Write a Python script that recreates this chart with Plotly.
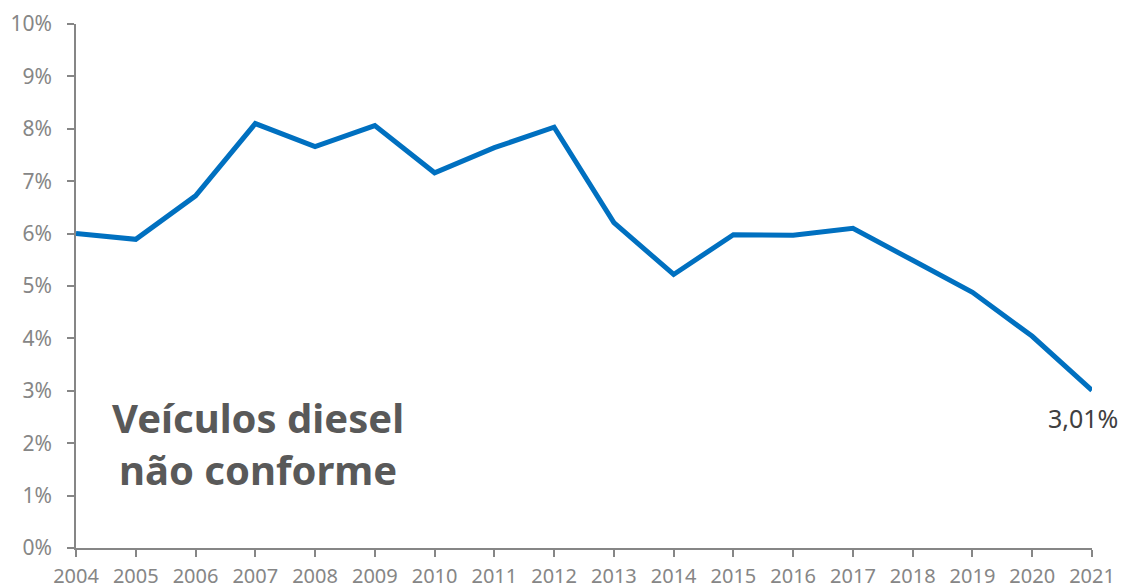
import plotly.graph_objects as go

years = list(range(2004, 2022))
values = [6.00, 5.89, 6.72, 8.10, 7.66, 8.06, 7.16, 7.64, 8.03, 6.21, 5.22, 5.98, 5.97, 6.10, 5.49, 4.88, 4.04, 3.01]
y_ticks = list(range(0, 11))
y_tick_labels = [f"{v}%" for v in y_ticks]
last_label = "3,01%"
title_text = "Veículos diesel<br>não conforme"

axis_gray = "#868686"
font_family = "Noto Sans, Open Sans, sans-serif"

fig = go.Figure()
fig.add_trace(go.Scatter(
    x=years, y=values, mode="lines",
    line=dict(color="#0070C0", width=5),
    hoverinfo="skip", showlegend=False,
))

fig.add_annotation(
    x=years[-1], y=values[-1], text=last_label, showarrow=False,
    xanchor="right", yanchor="top", xshift=28, yshift=-9,
    font=dict(family=font_family, size=25, color="#404040"),
)
fig.add_annotation(
    x=2007.05, y=2.0, text=title_text, showarrow=False,
    xanchor="center", yanchor="middle", align="center",
    font=dict(family=font_family, size=40, color="#595959", weight="bold"),
)

# the page body adds an 8px offset, so the figure is sized to fit the window
fig.update_layout(
    width=1118, height=580,
    margin=dict(l=68, r=34, t=16, b=40),
    paper_bgcolor="white", plot_bgcolor="white",
    font=dict(family=font_family, color=axis_gray),
)
fig.update_xaxes(
    range=[years[0], years[-1]], tickvals=years, ticktext=[str(y) for y in years],
    showgrid=False, zeroline=False, showline=True, linecolor=axis_gray, linewidth=1.5,
    ticks="outside", ticklen=7, tickcolor=axis_gray, tickwidth=1.5,
    tickfont=dict(size=20, color=axis_gray, family=font_family), automargin=False,
    ticklabelstandoff=2,
)
fig.update_yaxes(
    range=[0, 10], tickvals=y_ticks, ticktext=y_tick_labels,
    showgrid=False, zeroline=False, showline=True, linecolor=axis_gray, linewidth=1.5,
    ticks="outside", ticklen=7, tickcolor=axis_gray, tickwidth=1.5,
    tickfont=dict(size=21, color=axis_gray, family=font_family), automargin=False,
    ticklabelstandoff=11,
)

fig.write_html("out.html")
